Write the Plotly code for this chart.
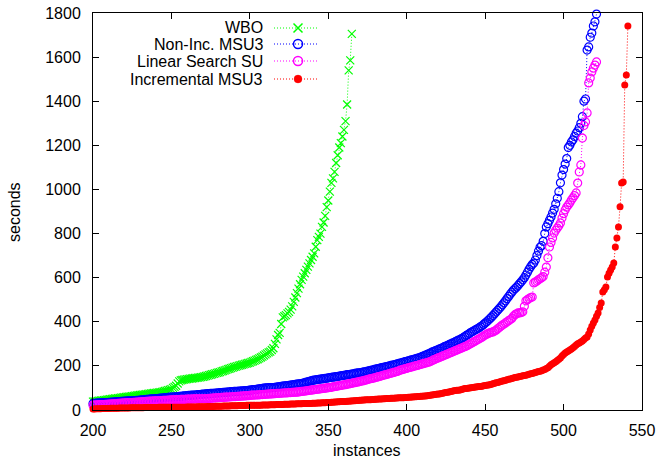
import plotly.graph_objects as go

# ---------------- data ----------------
wbo_start = 200
wbo = [
    38, 39, 40, 41, 42, 43, 44, 45, 46, 47,
    48, 49, 50, 51, 52, 53, 54, 55, 56, 57,
    58, 59, 60, 61, 62, 63, 64, 65, 66, 67,
    68, 69, 70, 71, 72, 73, 74, 75, 76, 77,
    78, 79, 80, 81, 82, 84, 86, 88, 90, 92,
    95, 100, 105, 110, 120, 130, 134, 136, 138, 139,
    140, 141, 142, 143, 144, 145, 146, 147, 148, 149,
    150, 152, 154, 156, 158, 160, 162, 164, 166, 168,
    170, 172, 175, 177, 180, 182, 185, 187, 190, 192,
    195, 197, 199, 201, 203, 205, 207, 209, 211, 213,
    215, 218, 221, 224, 227, 230, 234, 238, 242, 247,
    252, 257, 261, 265, 272, 280, 300, 320, 340, 350,
    390, 420, 425, 430, 438, 445, 455, 470, 490, 510,
    530, 550, 570, 590, 605, 620, 635, 650, 665, 680,
    695, 710, 740, 770, 785, 800, 830, 850, 880, 920,
    950, 990, 1030, 1050, 1080, 1120, 1155, 1190, 1210, 1240,
    1270, 1310, 1385, 1540, 1585, 1705,
]

noninc_start = 200
noninc = [
    30, 30, 31, 31, 32, 32, 33, 33, 34, 34,
    35, 35, 36, 36, 37, 37, 38, 38, 39, 39,
    40, 40, 41, 41, 42, 42, 43, 43, 44, 44,
    45, 46, 46, 47, 48, 48, 49, 50, 50, 51,
    52, 52, 53, 54, 54, 55, 56, 56, 57, 58,
    58, 59, 60, 60, 61, 62, 62, 63, 64, 64,
    65, 66, 66, 67, 68, 68, 69, 70, 70, 71,
    72, 72, 73, 74, 74, 75, 76, 76, 77, 77,
    78, 79, 79, 80, 80, 81, 81, 82, 83, 83,
    84, 85, 85, 86, 86, 87, 87, 88, 88, 89,
    90, 91, 92, 93, 94, 95, 96, 97, 98, 99,
    100, 100, 101, 101, 102, 102, 103, 104, 105, 106,
    107, 108, 109, 110, 111, 112, 113, 114, 115, 116,
    117, 118, 119, 120, 122, 124, 126, 128, 130, 132,
    134, 136, 137, 138, 139, 140, 141, 142, 143, 144,
    146, 147, 148, 149, 150, 151, 152, 154, 155, 156,
    157, 158, 160, 161, 162, 163, 164, 166, 167, 168,
    169, 170, 172, 173, 174, 176, 178, 180, 181, 183,
    185, 187, 188, 190, 192, 193, 195, 197, 198, 200,
    202, 204, 205, 207, 209, 211, 213, 215, 217, 219,
    221, 223, 225, 227, 229, 231, 233, 235, 237, 240,
    243, 246, 249, 252, 255, 258, 262, 265, 268, 271,
    274, 277, 280, 283, 287, 290, 293, 296, 300, 303,
    306, 310, 313, 317, 320, 324, 328, 333, 338, 342,
    347, 352, 356, 360, 364, 368, 372, 377, 382, 388,
    394, 400, 407, 414, 421, 428, 436, 444, 452, 460,
    468, 477, 486, 495, 505, 515, 525, 534, 543, 550,
    557, 565, 573, 581, 590, 600, 612, 625, 638, 650,
    660, 666, 680, 700, 720, 738, 745, 765, 800, 830,
    845, 860, 875, 893, 910, 935, 960, 990, 1030, 1065,
    1090, 1115, 1140, 1190, 1200, 1215, 1225, 1240, 1255, 1265,
    1280, 1300, 1330, 1400, 1410, 1632, 1646, 1690, 1709, 1741,
    1760, 1795,
]

linsu_start = 200
linsu = [
    22, 22, 23, 23, 24, 24, 25, 25, 26, 26,
    27, 27, 28, 28, 29, 29, 30, 30, 31, 31,
    32, 32, 33, 33, 34, 34, 35, 35, 36, 36,
    37, 37, 38, 38, 39, 39, 40, 40, 40, 41,
    41, 42, 42, 43, 43, 44, 44, 44, 45, 45,
    46, 46, 46, 47, 47, 47, 48, 48, 48, 48,
    49, 49, 49, 49, 50, 50, 50, 50, 51, 51,
    51, 51, 52, 52, 53, 53, 54, 54, 55, 55,
    56, 56, 57, 57, 58, 58, 59, 59, 60, 60,
    61, 61, 62, 62, 63, 63, 64, 64, 65, 65,
    66, 67, 67, 68, 68, 69, 69, 70, 70, 71,
    71, 72, 72, 73, 73, 74, 74, 75, 75, 76,
    76, 77, 77, 78, 78, 79, 79, 80, 80, 81,
    81, 82, 83, 84, 85, 86, 87, 88, 89, 90,
    91, 92, 93, 94, 95, 96, 97, 98, 99, 100,
    101, 102, 103, 105, 106, 107, 109, 110, 111, 113,
    114, 115, 117, 118, 120, 121, 123, 124, 126, 127,
    129, 131, 132, 134, 136, 138, 140, 142, 143, 145,
    147, 149, 151, 153, 155, 157, 159, 161, 163, 165,
    167, 169, 171, 173, 175, 178, 181, 183, 185, 187,
    189, 191, 193, 195, 197, 199, 201, 203, 205, 207,
    209, 211, 213, 215, 217, 220, 223, 227, 230, 233,
    236, 239, 242, 245, 248, 251, 254, 257, 260, 263,
    266, 269, 272, 275, 278, 281, 284, 287, 290, 294,
    298, 302, 306, 310, 314, 318, 322, 326, 330, 335,
    340, 344, 347, 350, 352, 354, 358, 362, 368, 374,
    380, 385, 390, 395, 400, 405, 410, 415, 425, 432,
    436, 440, 440, 442, 445, 470, 495, 500, 505, 510,
    512, 576, 580, 585, 590, 595, 600, 605, 625, 648,
    690, 739, 760, 780, 802, 815, 825, 835, 848, 870,
    890, 907, 920, 930, 940, 952, 962, 972, 984, 1029,
    1079, 1111, 1233, 1290, 1306, 1347, 1483, 1505, 1533, 1550,
    1564, 1578,
]

incmsu3_start = 200
incmsu3 = [
    5, 5, 6, 6, 6, 6, 7, 7, 7, 7,
    7, 8, 8, 8, 8, 8, 8, 9, 9, 9,
    9, 9, 9, 9, 10, 10, 10, 10, 10, 10,
    10, 10, 10, 11, 11, 11, 11, 11, 11, 11,
    11, 11, 12, 12, 12, 12, 12, 12, 12, 12,
    12, 12, 13, 13, 13, 13, 13, 13, 13, 13,
    14, 14, 14, 14, 14, 14, 14, 15, 15, 15,
    15, 15, 15, 16, 16, 16, 16, 16, 17, 17,
    17, 17, 17, 18, 18, 18, 18, 18, 19, 19,
    19, 19, 19, 20, 20, 20, 20, 20, 21, 21,
    21, 21, 21, 22, 22, 22, 22, 22, 23, 23,
    23, 23, 23, 24, 24, 24, 24, 25, 25, 25,
    25, 25, 26, 26, 26, 26, 27, 27, 27, 27,
    28, 28, 28, 28, 29, 29, 29, 30, 30, 30,
    31, 31, 31, 32, 32, 32, 33, 33, 33, 34,
    34, 34, 35, 35, 36, 36, 37, 37, 38, 38,
    39, 39, 40, 40, 41, 41, 42, 42, 43, 43,
    44, 44, 45, 45, 46, 46, 47, 47, 48, 48,
    49, 49, 50, 50, 50, 51, 51, 52, 52, 52,
    53, 53, 53, 54, 54, 55, 55, 56, 56, 57,
    57, 58, 58, 59, 59, 60, 60, 61, 61, 62,
    62, 63, 64, 65, 66, 67, 68, 69, 70, 71,
    72, 73, 75, 76, 78, 79, 81, 82, 84, 85,
    87, 88, 89, 90, 91, 93, 95, 97, 98, 99,
    100, 101, 102, 103, 104, 105, 106, 107, 108, 110,
    111, 112, 113, 115, 117, 119, 121, 123, 125, 127,
    129, 131, 133, 135, 137, 139, 141, 143, 145, 147,
    149, 150, 152, 153, 155, 156, 158, 160, 162, 164,
    166, 168, 170, 172, 174, 176, 178, 181, 184, 188,
    192, 198, 205, 210, 214, 219, 224, 230, 236, 245,
    252, 258, 263, 268, 272, 277, 282, 288, 295, 300,
    304, 308, 313, 320, 326, 331, 345, 363, 380, 395,
    408, 425, 440, 465, 485, 535, 545, 558, 603, 620,
    635, 648, 666, 739, 780, 830, 921, 1029, 1034, 1474,
    1519, 1741,
]

series_names = ["WBO", "Non-Inc. MSU3", "Linear Search SU", "Incremental MSU3"]
x_ticks = [200, 250, 300, 350, 400, 450, 500, 550]
y_ticks = [0, 200, 400, 600, 800, 1000, 1200, 1400, 1600, 1800]

# ---------------- styling ----------------
FONT = "Liberation Sans"
FS = 16
W, H = 660, 459
L, R, T, B = 93, 18, 13, 49
DOT = "1px,2px"

styles = [
    dict(color="#00ff00", symbol="x-thin", size=8, lw=1.2),
    dict(color="#0000ff", symbol="circle-open", size=8, lw=1.2),
    dict(color="#ff00ff", symbol="circle-open", size=8, lw=1.2),
    dict(color="#ff0000", symbol="circle", size=7, lw=0),
]
data = [(wbo_start, wbo), (noninc_start, noninc), (linsu_start, linsu), (incmsu3_start, incmsu3)]

fig = go.Figure()
for (start, vals), st, name in zip(data, styles, series_names):
    xs = list(range(start, start + len(vals)))
    fig.add_trace(go.Scatter(
        x=xs, y=vals, mode="lines+markers", name=name, showlegend=False,
        cliponaxis=False,
        line=dict(color=st["color"], width=1, dash=DOT),
        marker=dict(symbol=st["symbol"], size=st["size"], color=st["color"],
                    line=dict(color=st["color"], width=st["lw"])),
    ))

# manual gnuplot-style key (text right-aligned, sample to the right)
pw, ph = W - L - R, H - T - B
def fx(px):
    return (px - L) / pw
def fy(py):
    return (H - B - py) / ph

key_rows = [28, 44, 61, 79]
for name, st, py in zip(series_names, styles, key_rows):
    fig.add_annotation(x=fx(265), y=fy(py), xref="paper", yref="paper",
                       text=name, showarrow=False, xanchor="right", yanchor="middle",
                       font=dict(family=FONT, size=FS, color="black"))
    fig.add_trace(go.Scatter(
        x=[fx(274), fx(318)], y=[fy(py), fy(py)], xaxis="x2", yaxis="y2",
        mode="lines", showlegend=False, hoverinfo="skip",
        line=dict(color=st["color"], width=1, dash=DOT)))
    fig.add_trace(go.Scatter(
        x=[fx(298)], y=[fy(py)], xaxis="x2", yaxis="y2",
        mode="markers", showlegend=False, hoverinfo="skip", cliponaxis=False,
        marker=dict(symbol=st["symbol"], size=st["size"] + 1, color=st["color"],
                    line=dict(color=st["color"], width=st["lw"] + 0.3))))

axis_common = dict(
    showline=True, linecolor="black", linewidth=1, mirror="ticks",
    ticks="inside", ticklen=6, tickwidth=1, tickcolor="black",
    showgrid=False, zeroline=False, automargin=False,
    tickfont=dict(family=FONT, size=FS, color="black"),
)

fig.update_layout(
    width=W, height=H,
    margin=dict(l=L, r=R, t=T, b=B, autoexpand=False),
    showlegend=False,
    paper_bgcolor="white", plot_bgcolor="white",
    xaxis=dict(range=[200, 550], tickvals=x_ticks, ticklabelstandoff=6, **axis_common),
    yaxis=dict(range=[0, 1800], tickvals=y_ticks, ticklabelstandoff=8, **axis_common),
    xaxis2=dict(overlaying="x", range=[0, 1], visible=False),
    yaxis2=dict(overlaying="y", range=[0, 1], visible=False),
    font=dict(family=FONT, size=FS, color="black"),
)

fig.add_annotation(x=(367 - L) / pw, y=fy(450), xref="paper", yref="paper",
                   text="instances", showarrow=False, xanchor="center", yanchor="middle",
                   font=dict(family=FONT, size=FS, color="black"))
fig.add_annotation(x=(15 - L) / pw, y=fy(212), xref="paper", yref="paper",
                   text="seconds", showarrow=False, textangle=-90,
                   xanchor="center", yanchor="middle",
                   font=dict(family=FONT, size=FS, color="black"))

fig.write_html("out.html", config={"displayModeBar": False},
               post_script="document.body.style.margin='0';document.body.style.padding='0';")
